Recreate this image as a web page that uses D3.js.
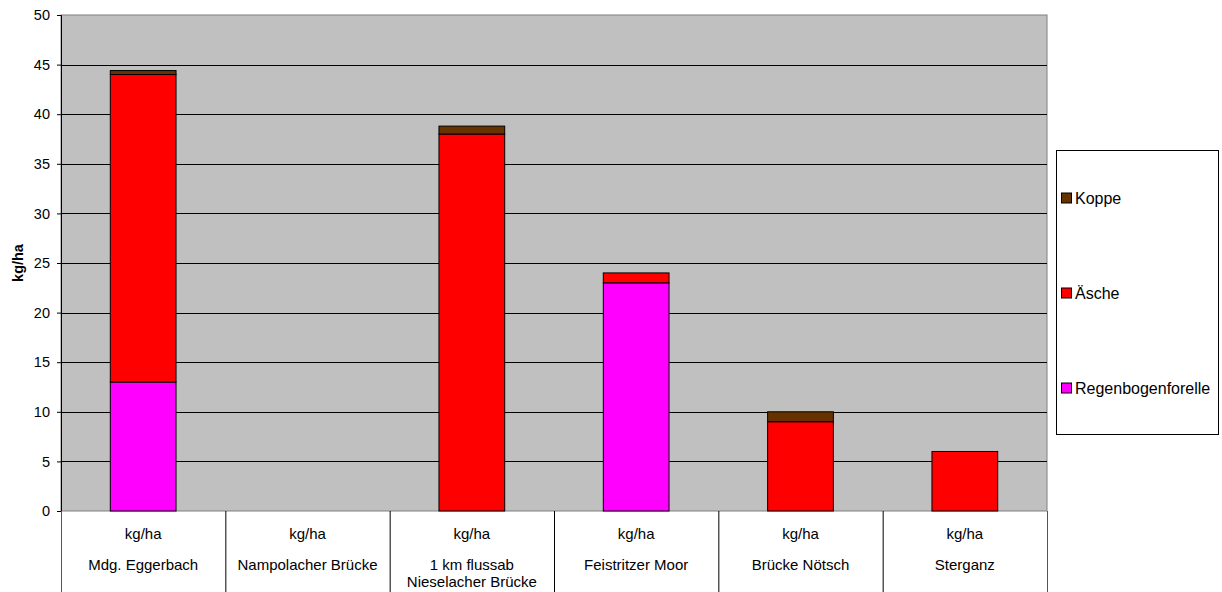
<!DOCTYPE html>
<html>
<head>
<meta charset="utf-8">
<script src="https://cdn.jsdelivr.net/npm/d3@7"></script>
<style>
  html, body { margin: 0; padding: 0; background: #fff; }
  svg { display: block; font-family: "Liberation Sans", Arial, sans-serif; }
</style>
</head>
<body>
<svg id="chart" width="1222" height="592"></svg>
<script>
const categories = [
  ["Mdg. Eggerbach"],
  ["Nampolacher Brücke"],
  ["1 km flussab", "Nieselacher Brücke"],
  ["Feistritzer Moor"],
  ["Brücke Nötsch"],
  ["Sterganz"]
];
const categoryUnit = "kg/ha";
const seriesNames = ["Regenbogenforelle", "Äsche", "Koppe"];
const regenbogenforelle = [13, 0, 0, 23, 0, 0];
const aesche = [31, 0, 38, 1, 9, 6];
const koppe = [0.4, 0, 0.8, 0, 1, 0];
const seriesColors = ["#FF00FF", "#FF0000", "#663300"];
const yTicks = [0, 5, 10, 15, 20, 25, 30, 35, 40, 45, 50];
const yLabel = "kg/ha";

(function () {
const svg = d3.select("#chart");
const pLeft = 61, pRight = 1047, pTop = 15, pBottom = 511;

const keys = categories.map((c, i) => i);
const x = d3.scaleBand().domain(keys).range([pLeft, pRight]).paddingInner(0.6).paddingOuter(0.3);
const xCell = d3.scaleBand().domain(keys).range([pLeft, pRight]).padding(0);
const y = d3.scaleLinear().domain([0, 50]).range([pBottom, pTop]);

// plot background
svg.append("rect")
  .attr("x", pLeft).attr("y", pTop)
  .attr("width", pRight - pLeft).attr("height", pBottom - pTop)
  .attr("fill", "#C0C0C0").attr("stroke", "#808080").attr("stroke-width", 1);

// gridlines
svg.append("g").selectAll("line")
  .data(yTicks.filter(t => t > 0 && t < 50))
  .join("line")
  .attr("x1", pLeft).attr("x2", pRight)
  .attr("y1", d => Math.round(y(d)) + 0.5).attr("y2", d => Math.round(y(d)) + 0.5)
  .attr("stroke", "#000").attr("stroke-width", 1);

// stacked data
const rows = keys.map(i => ({
  i,
  Regenbogenforelle: regenbogenforelle[i],
  "Äsche": aesche[i],
  Koppe: koppe[i]
}));
const stack = d3.stack().keys(seriesNames);
const stacked = stack(rows);

svg.append("g").selectAll("g")
  .data(stacked)
  .join("g")
  .attr("fill", (d, k) => seriesColors[k])
  .selectAll("rect")
  .data(d => d.filter(v => v[1] - v[0] > 0))
  .join("rect")
  .attr("x", d => x(d.data.i))
  .attr("width", x.bandwidth())
  .attr("y", d => y(d[1]))
  .attr("height", d => y(d[0]) - y(d[1]))
  .attr("stroke", "#000").attr("stroke-width", 1);

// y axis
const yAxis = d3.axisLeft(y).tickValues(yTicks).tickSize(4).tickPadding(7).tickFormat(d3.format("d"));
const gy = svg.append("g").attr("transform", `translate(${pLeft},0)`).call(yAxis);
gy.select(".domain").attr("stroke", "#000");
gy.selectAll(".tick line").attr("stroke", "#000");
gy.selectAll(".tick text").attr("font-size", 14.5).attr("fill", "#000")
  .attr("font-family", "'Liberation Sans', Arial, sans-serif");

// y label
svg.append("text")
  .attr("transform", `translate(23,${(pTop + pBottom) / 2}) rotate(-90)`)
  .attr("text-anchor", "middle")
  .attr("font-size", 14.5).attr("font-weight", "bold")
  .text(yLabel);

// category table
const table = svg.append("g");
table.selectAll("line.v")
  .data(keys.concat([keys.length]))
  .join("line")
  .attr("class", "v")
  .attr("x1", d => d < keys.length ? xCell(d) + 0.5 : pRight + 0.5)
  .attr("x2", d => d < keys.length ? xCell(d) + 0.5 : pRight + 0.5)
  .attr("y1", pBottom).attr("y2", 592)
  .attr("stroke", (d) => (d === 0 || d === keys.length) ? "#555" : "#000")
  .attr("stroke-width", 1);

const cellG = table.selectAll("g.cell")
  .data(keys)
  .join("g").attr("class", "cell")
  .attr("transform", d => `translate(${xCell(d) + xCell.bandwidth() / 2},0)`);
cellG.append("text")
  .attr("y", 539).attr("text-anchor", "middle").attr("font-size", 15)
  .text(categoryUnit);
cellG.each(function(d) {
  const g = d3.select(this);
  categories[d].forEach((line, j) => {
    g.append("text").attr("y", 570 + j * 17).attr("text-anchor", "middle")
      .attr("font-size", 15).text(line);
  });
});

// legend
const legend = svg.append("g");
legend.append("rect")
  .attr("x", 1056.5).attr("y", 150.5).attr("width", 162).attr("height", 284)
  .attr("fill", "#fff").attr("stroke", "#000");
const legendOrder = [2, 1, 0];
const legendY = d3.scalePoint().domain(legendOrder).range([198, 388]);
const li = legend.selectAll("g.item").data(legendOrder).join("g").attr("class", "item")
  .attr("transform", d => `translate(0,${legendY(d)})`);
li.append("rect")
  .attr("x", 1061.5).attr("y", -5).attr("width", 10).attr("height", 10)
  .attr("fill", d => seriesColors[d]).attr("stroke", "#000");
li.append("text")
  .attr("x", 1075).attr("y", 6).attr("font-size", 16)
  .text(d => seriesNames[d]);
})();
</script>
</body>
</html>
